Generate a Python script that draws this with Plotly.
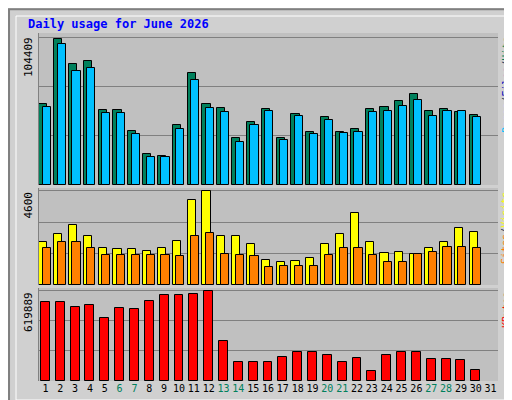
import plotly.graph_objects as go

days = list(range(1, 31))
hits = [57541,103344,85588,87718,53280,53280,38364,22018,20597,42613,79140,57541,54700,33394,44757,53990,33394,50451,37654,48320,37654,39785,53990,55410,59672,64644,52569,53990,51859,49728]
files = [55410,99792,80616,82747,51149,51149,36233,19887,19887,39785,74168,54700,51859,30543,42613,52569,32014,49041,36233,46190,36943,37654,51859,52569,56120,60382,49041,52569,52569,48320]
visits = [2100,2500,2950,2400,1800,1750,1750,1650,1800,2150,4150,4600,2400,2400,2000,1200,1100,1150,1300,2000,2500,3500,2100,1550,1600,1500,1800,2100,2800,2600]
sites = [1800,2100,2100,1800,1450,1450,1450,1450,1450,1400,2400,2550,1500,1450,1400,900,950,950,950,1450,1800,1800,1450,1100,1100,1500,1600,1850,1850,1800]
kbytes = [542400,542400,507200,521300,429700,500100,493000,549500,591700,591700,598700,619900,274800,133800,133800,133800,162000,197200,197200,176100,133800,155000,70400,176100,197200,197200,148000,148000,140900,77500]
MAXH, MAXV, MAXK = 104409, 4600, 619889

fig = go.Figure()
def bar(y, color, ax, off):
    fig.add_bar(x=days, y=y, xaxis="x", yaxis=ax, width=0.55, offset=off,
                marker=dict(color=color, line=dict(color="black", width=1)))
bar(hits, "#00805C", "y", -0.42)
bar(files, "#00C0FF", "y", -0.18)
bar(visits, "#FFFF00", "y2", -0.42)
bar(sites, "#FF8000", "y2", -0.18)
fig.add_bar(x=days, y=kbytes, xaxis="x", yaxis="y3", width=0.6, offset=-0.3,
            marker=dict(color="#FF0000", line=dict(color="black", width=1)))

weekend = {6, 7, 13, 14, 20, 21, 27, 28}
ticktext = [f"<span style='color:{'#00805C' if d in weekend else 'black'}'>{d}</span>" for d in range(1, 32)]
x0, x1 = 30/512, 490/512
doms = {"y": [1-177/400, 1-25/400], "y2": [1-277/400, 1-180/400], "y3": [1-373/400, 1-280/400]}
maxes = {"y": MAXH, "y2": MAXV, "y3": MAXK}
lay = dict(width=512, height=400, margin=dict(l=0, r=0, t=0, b=0), showlegend=False,
           paper_bgcolor="#D0D0D0", plot_bgcolor="#C0C0C0", barmode="overlay", bargap=0,
           xaxis=dict(domain=[x0, x1], range=[0.5, 31.5], anchor="y3", tickvals=list(range(1, 32)),
                      ticktext=ticktext, tickangle=0, showgrid=False, ticks="",
                      tickfont=dict(family="DejaVu Sans Mono", size=10)))
for ax in ["y", "y2", "y3"]:
    m = maxes[ax]
    key = "yaxis" if ax == "y" else "yaxis" + ax[1]
    lay[key] = dict(domain=doms[ax], range=[0, m*1.03], anchor="free", position=x0,
                    tickvals=[m/3, 2*m/3, m], showticklabels=False, gridcolor="#808080",
                    zeroline=False, ticks="", showline=True, linecolor="#808080", mirror=True)
fig.update_layout(**lay)

F = "DejaVu Sans Mono"
ann = [dict(text="<b>Daily usage for June 2026</b>", x=18/512, y=1-16/400, xref="paper", yref="paper",
            xanchor="left", yanchor="middle", showarrow=False, font=dict(family=F, size=12, color="#0000FF"))]
for ax, lab in [("y", "104409"), ("y2", "4600"), ("y3", "619889")]:
    d = doms[ax]
    ann.append(dict(text=lab, x=20/512, y=d[1]-0.005, xref="paper", yref="paper", textangle=-90,
                    xanchor="center", yanchor="top", showarrow=False, font=dict(family=F, size=11, color="black")))
legs = [("y", "<span style='color:#00C0FF'>Pages</span>/<span style='color:#0000C0'>Files</span>/<span style='color:#00805C'>Hits</span>"),
        ("y2", "<span style='color:#FF8000'>Sites</span>/<span style='color:#FFFF00'>Visits</span>"),
        ("y3", "<span style='color:#FF0000'>KBytes</span>")]
for ax, t in legs:
    d = doms[ax]
    ann.append(dict(text=t, x=498/512, y=d[1]-0.005, xref="paper", yref="paper", textangle=-90,
                    xanchor="center", yanchor="top", showarrow=False, font=dict(family=F, size=10)))
fig.update_layout(annotations=ann,
                  shapes=[dict(type="rect", xref="paper", yref="paper", x0=0.002, y0=0.003, x1=0.998, y1=0.997,
                               line=dict(color="#808080", width=2)),
                          dict(type="rect", xref="paper", yref="paper", x0=8/512, y0=8/400, x1=504/512, y1=392/400,
                               line=dict(color="#FFFFFF", width=1))])
fig.write_html("out.html")
